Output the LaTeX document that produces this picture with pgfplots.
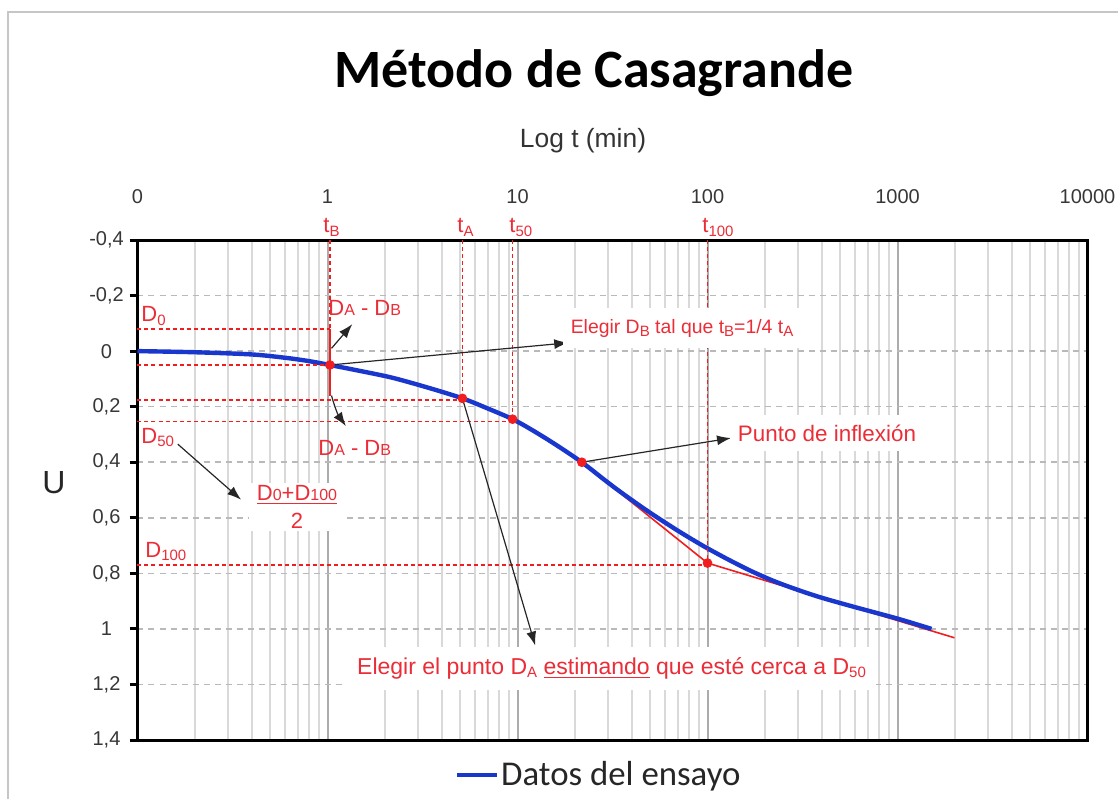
\documentclass[border=0pt]{standalone}
\usepackage{pgfplots}
\pgfplotsset{compat=1.18}
\usetikzlibrary{arrows.meta}
\usepackage{fontspec}
\setmainfont{Liberation Sans}
\newfontfamily\calfont{Carlito}
\definecolor{redT}{RGB}{235,45,55}
\definecolor{redL}{RGB}{240,30,30}
\definecolor{blueC}{RGB}{25,55,205}
\definecolor{tickgray}{RGB}{55,55,55}
\newcommand{\sbs}[1]{\raisebox{-0.3ex}{\fontsize{7.5}{8}\selectfont #1}}
\newcommand{\sca}[1]{{\fontsize{8}{9}\selectfont #1}}
\begin{document}
\begin{tikzpicture}[x=1pt,y=1pt]
\path[use as bounding box] (0,0) rectangle (559,399.5);
\draw[gray!45, line width=1.2pt] (4,0) -- (4,393.5) -- (559,393.5);
\begin{axis}[
  at={(68.75pt,29.5pt)}, anchor=south west,
  width=475pt, height=250pt, scale only axis,
  xmode=log, xmin=0.1, xmax=10000,
  ymin=-0.4, ymax=1.4, y dir=reverse,
  clip=false,
  axis line style={line width=1.5pt},
  xtick={0.1,1,10,100,1000,10000},
  xticklabels={0,1,10,100,1000,10000},
  xticklabel pos=top,
  ytick pos=left,
  ytick={-0.4,-0.2,0,0.2,0.4,0.6,0.8,1,1.2,1.4},
  yticklabels={{-0,4},{-0,2},{0},{0,2},{0,4},{0,6},{0,8},{1},{1,2},{1,4}},
  tick label style={font=\fontsize{10}{12}\selectfont, text=tickgray},
  xticklabel style={anchor=center, yshift=17.5pt},
  yticklabel style={anchor=center, xshift=-11.5pt},
  xmajorgrids, xminorgrids, ymajorgrids,
  minor x grid style={gray!30, line width=0.9pt},
  major x grid style={gray!65, line width=1pt},
  major y grid style={gray!55, line width=0.8pt, dash pattern=on 3pt off 2.5pt},
  tick align=outside, major tick length=4pt, minor tick length=0pt,
  xtick style={draw=none},
  ytick style={black, line width=1.5pt},
  legend style={at={(axis description cs:0.334,-0.07)}, anchor=west, draw=none, fill=none,
    font=\calfont\fontsize{17.4}{20}\selectfont, text=black!85, inner sep=0pt,
    nodes={inner sep=1pt}},
  legend image code/.code={\draw[#1, line width=2pt] (0pt,0pt) -- (20pt,0pt);},
  legend cell align=left,
]
% red tangent lines
\addplot[redL, line width=0.8pt, forget plot] coordinates {(21.8,0.40) (100,0.763) (1995,1.032)};
% data curve
\addplot[blueC, line width=2.2pt, smooth] coordinates {
(0.1,0.0) (0.2,0.004) (0.4,0.012) (0.6,0.024) (0.8,0.036) (1.03,0.05)
(1.5,0.072) (2.2,0.096) (3.4,0.132) (5.13,0.17) (7,0.207) (9.42,0.245)
(12,0.285) (16,0.338) (21.8,0.40) (29,0.466) (35,0.508) (45,0.561) (55,0.601)
(70,0.647) (85,0.682) (100,0.71) (130,0.752) (170,0.792) (224,0.828) (300,0.86)
(400,0.888) (600,0.922) (1000,0.963) (1510,1.0)};
\addlegendentry{Datos del ensayo}
% red dashed guide lines
\addplot[redL, line width=0.7pt, dash pattern=on 2pt off 1.5pt, forget plot] coordinates {(1.03,-0.4) (1.03,-0.08)};
\addplot[redL, line width=0.7pt, dash pattern=on 2pt off 1.5pt, forget plot] coordinates {(5.13,-0.4) (5.13,0.17)};
\addplot[redL, line width=0.7pt, dash pattern=on 2pt off 1.5pt, forget plot] coordinates {(9.42,-0.4) (9.42,0.25)};
\addplot[redL, line width=0.7pt, dash pattern=on 2pt off 1.5pt, forget plot] coordinates {(100,-0.4) (100,0.763)};
\addplot[redL, line width=0.7pt, dash pattern=on 2pt off 1.5pt, forget plot] coordinates {(0.1,-0.08) (1.03,-0.08)};
\addplot[redL, line width=0.7pt, dash pattern=on 2pt off 1.5pt, forget plot] coordinates {(0.1,0.05) (1.03,0.05)};
\addplot[redL, line width=0.7pt, dash pattern=on 2pt off 1.5pt, forget plot] coordinates {(0.1,0.176) (5.13,0.176)};
\addplot[redL, line width=0.7pt, dash pattern=on 2pt off 1.5pt, forget plot] coordinates {(0.1,0.254) (9.42,0.254)};
\addplot[redL, line width=0.7pt, dash pattern=on 2pt off 1.5pt, forget plot] coordinates {(0.1,0.77) (100,0.77)};
\addplot[redL, line width=0.9pt, forget plot] coordinates {(1.03,-0.08) (1.03,0.16)};
% red points
\addplot[only marks, mark=*, mark size=2.2pt, redL, forget plot] coordinates {(1.03,0.05) (5.13,0.17) (9.42,0.245) (21.8,0.40) (100,0.763)};
% arrows
\begin{scope}[black!85, line width=0.6pt, -{Latex[length=7pt,width=5pt]}]
\draw (axis cs:1.03,0.05) -- (axis cs:18.5,-0.03);
\draw (axis cs:1.05,-0.01) -- (axis cs:1.35,-0.097);
\draw (axis cs:1.05,0.16) to[bend right=10] (axis cs:1.25,0.27);
\draw (axis cs:0.163,0.335) -- (axis cs:0.351,0.535);
\draw (axis cs:5.13,0.17) -- (axis cs:12.4,1.06);
\draw (axis cs:21.8,0.40) -- (axis cs:133,0.313);
\end{scope}
\end{axis}
% outer texts
\node[font=\calfont\bfseries\fontsize{27}{30}\selectfont] at (297,363) {Método de Casagrande};
\node[font=\fontsize{13.2}{15}\selectfont, text=black!80] at (291.5,329) {Log t (min)};
\node[font=\fontsize{16}{18}\selectfont, text=black!85] at (27,158) {U};
% red labels
\begin{scope}[text=redT, font=\fontsize{11}{13}\selectfont, inner sep=0pt]
\node[anchor=base west] at (161.5,283) {t\sbs{B}};
\node[anchor=base west] at (228.5,283) {t\sbs{A}};
\node[anchor=base west] at (254.5,283) {t\sbs{50}};
\node[anchor=base west] at (351,283) {t\sbs{100}};
\node[anchor=base west] at (70.5,238.5) {D\sbs{0}};
\node[anchor=base west] at (164,241.5) {D\sca{A} - D\sca{B}};
\node[anchor=base west] at (159,172) {D\sca{A} - D\sca{B}};
\node[anchor=base west] at (70.5,178) {D\sbs{50}};
\node[anchor=base west] at (72.5,121) {D\sbs{100}};
\node[fill=white, minimum width=48pt, minimum height=24pt, align=center] at (148.5,146)
  {\underline{D\sca{0}+D\sca{100}}\\[1pt] 2};
\node[fill=white, font=\fontsize{9.7}{12}\selectfont, inner xsep=4pt, minimum height=20pt] at (341,235.5)
  {Elegir D\sbs{B} tal que t\sbs{B}=1/4 t\sbs{A}};
\node[fill=white, font=\fontsize{11.2}{13}\selectfont, inner xsep=4pt, minimum height=18pt] at (413.5,183)
  {Punto de inflexión};
\node[fill=white, font=\fontsize{11.5}{13}\selectfont, inner xsep=5pt, minimum height=21.5pt] at (305.75,65.5)
  {Elegir el punto D\sbs{A} \underline{estimando} que esté cerca a D\sbs{50}};
\end{scope}
\end{tikzpicture}
\end{document}
